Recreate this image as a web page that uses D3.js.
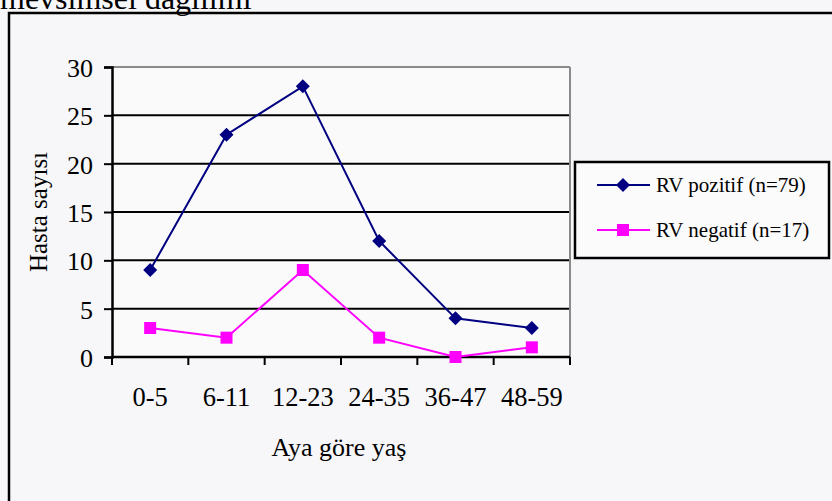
<!DOCTYPE html>
<html>
<head>
<meta charset="utf-8">
<script src="https://cdn.jsdelivr.net/npm/d3@7"></script>
<style>
  html, body { margin: 0; padding: 0; background: #f7f7f9; }
  svg { display: block; }
  text { font-family: "Liberation Serif", "Times New Roman", serif; fill: #000; }
</style>
</head>
<body>
<svg id="chart" width="832" height="501"></svg>
<script>
const categories = ["0-5", "6-11", "12-23", "24-35", "36-47", "48-59"];
const positiveValues = [9, 23, 28, 12, 4, 3];
const negativeValues = [3, 2, 9, 2, 0, 1];
const yTicks = [0, 5, 10, 15, 20, 25, 30];
const seriesNames = ["RV pozitif (n=79)", "RV negatif (n=17)"];
const titleText = "mevsimsel dağılımı";
const xTitle = "Aya göre yaş";
const yTitle = "Hasta sayısı";

const series = [
  { name: seriesNames[0], values: positiveValues, color: "#000080", marker: "diamond" },
  { name: seriesNames[1], values: negativeValues, color: "#ff00ff", marker: "square" }
];

const svg = d3.select("#chart");
const W = 832, H = 501;
const plot = { left: 112, right: 570, top: 67, bottom: 357 };

// Background
svg.append("rect").attr("width", W).attr("height", H).attr("fill", "#f7f7f9");

// Title (cut off at top, as in the reference)
svg.append("text").attr("x", 0).attr("y", 9)
  .attr("font-size", 32).text(titleText);

// Outer frame
svg.append("rect").attr("x", 9).attr("y", 13).attr("width", 900).attr("height", 600)
  .attr("fill", "none").attr("stroke", "#000").attr("stroke-width", 2.5);

const x = d3.scaleBand().domain(categories).range([plot.left, plot.right]).padding(0);
const y = d3.scaleLinear().domain([0, 30]).range([plot.bottom, plot.top]);

// Plot area
svg.append("rect").attr("x", plot.left).attr("y", plot.top)
  .attr("width", plot.right - plot.left).attr("height", plot.bottom - plot.top)
  .attr("fill", "#fafafb");

// Gridlines
svg.append("g").selectAll("line").data(yTicks.filter(d => d > 0)).join("line")
  .attr("x1", plot.left).attr("x2", plot.right)
  .attr("y1", d => y(d)).attr("y2", d => y(d))
  .attr("stroke", d => d === 30 ? "#8a8a8a" : "#000")
  .attr("stroke-width", 2);

// Right border of plot area
svg.append("line").attr("x1", plot.right).attr("x2", plot.right)
  .attr("y1", plot.top).attr("y2", plot.bottom)
  .attr("stroke", "#8a8a8a").attr("stroke-width", 2);

// Y axis
const yAxis = d3.axisLeft(y).tickValues(yTicks).tickSize(8).tickPadding(11);
const gy = svg.append("g").attr("transform", `translate(${plot.left},0)`).call(yAxis);
gy.select(".domain").attr("stroke", "#000").attr("stroke-width", 2.5);
gy.selectAll(".tick line").attr("stroke", "#000").attr("stroke-width", 2);
gy.selectAll(".tick text").attr("font-size", 26).attr("dy", "0.36em")
  .attr("font-family", "Liberation Serif, Times New Roman, serif").attr("fill", "#000");

// X axis: labels at band centers
const xAxis = d3.axisBottom(x).tickSize(0).tickPadding(0);
const gx = svg.append("g").attr("transform", `translate(0,${plot.bottom})`).call(xAxis);
gx.select(".domain").remove();
gx.selectAll(".tick text").attr("font-size", 26.5).attr("dy", null).attr("y", 49)
  .attr("font-family", "Liberation Serif, Times New Roman, serif").attr("fill", "#000");

// X baseline
svg.append("line").attr("x1", plot.left).attr("x2", plot.right)
  .attr("y1", plot.bottom).attr("y2", plot.bottom)
  .attr("stroke", "#000").attr("stroke-width", 2.5);

// X ticks at band boundaries
const boundaries = categories.map(c => x(c)).concat([x(categories[categories.length - 1]) + x.bandwidth()]);
svg.append("g").selectAll("line").data(boundaries).join("line")
  .attr("x1", d => d).attr("x2", d => d)
  .attr("y1", plot.bottom).attr("y2", plot.bottom + 8)
  .attr("stroke", "#000").attr("stroke-width", 2);

// Axis titles
svg.append("text").attr("x", (plot.left + plot.right) / 2 - 2).attr("y", 456)
  .attr("text-anchor", "middle").attr("font-size", 26).text(xTitle);
svg.append("text")
  .attr("transform", `translate(47,${(plot.top + plot.bottom) / 2}) rotate(-90)`)
  .attr("text-anchor", "middle").attr("font-size", 25).text(yTitle);

// Markers
function drawMarker(g, type, color, cx, cy) {
  if (type === "diamond") {
    g.append("path")
      .attr("d", `M${cx},${cy - 7}L${cx + 7},${cy}L${cx},${cy + 7}L${cx - 7},${cy}Z`)
      .attr("fill", color);
  } else {
    g.append("rect").attr("x", cx - 6).attr("y", cy - 6).attr("width", 12).attr("height", 12)
      .attr("fill", color);
  }
}

// Lines
const line = d3.line()
  .x((d, i) => x(categories[i]) + x.bandwidth() / 2)
  .y(d => y(d));

series.slice().reverse().forEach(s => {
  const g = svg.append("g");
  g.append("path").datum(s.values).attr("d", line)
    .attr("fill", "none").attr("stroke", s.color).attr("stroke-width", 2);
  s.values.forEach((v, i) => drawMarker(g, s.marker, s.color, x(categories[i]) + x.bandwidth() / 2, y(v)));
});

// Legend
const legend = svg.append("g");
legend.append("rect").attr("x", 575).attr("y", 162).attr("width", 254).attr("height", 96)
  .attr("fill", "#fbfbfc").attr("stroke", "#000").attr("stroke-width", 2.5);
series.forEach((s, i) => {
  const ly = 185 + i * 45;
  legend.append("line").attr("x1", 597).attr("x2", 650).attr("y1", ly).attr("y2", ly)
    .attr("stroke", s.color).attr("stroke-width", 2);
  drawMarker(legend, s.marker, s.color, 623, ly);
  legend.append("text").attr("x", 656).attr("y", ly).attr("dy", "0.33em")
    .attr("font-size", 21).text(s.name);
});
</script>
</body>
</html>
